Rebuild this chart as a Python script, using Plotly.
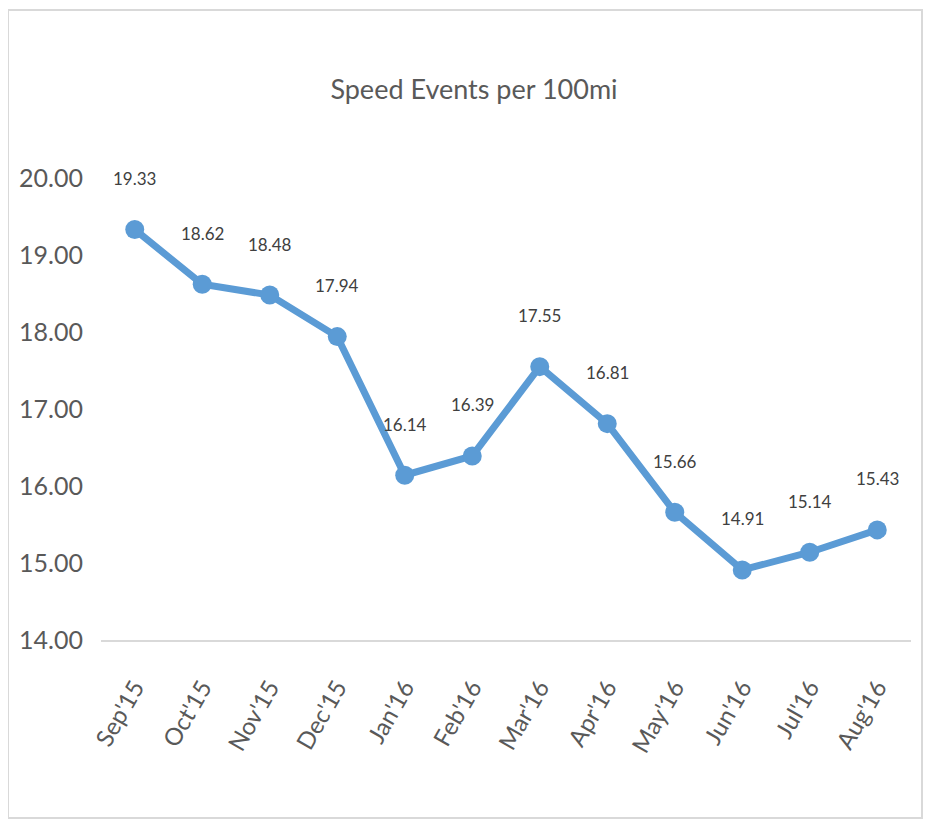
import plotly.graph_objects as go

months = ["Sep'15", "Oct'15", "Nov'15", "Dec'15", "Jan'16", "Feb'16",
          "Mar'16", "Apr'16", "May'16", "Jun'16", "Jul'16", "Aug'16"]
speed_events = [19.33, 18.62, 18.48, 17.94, 16.14, 16.39,
                17.55, 16.81, 15.66, 14.91, 15.14, 15.43]
y_ticks = [14, 15, 16, 17, 18, 19, 20]

W, H = 932, 821
L, R, T, B = 93, 29, 170, 189
pw, ph = W - L - R, H - T - B

fig = go.Figure()
fig.add_trace(go.Scatter(
    x=months, y=speed_events, mode="lines+markers",
    line=dict(color="#5B9BD5", width=7),
    marker=dict(color="#5B9BD5", size=19),
    hoverinfo="x+y", showlegend=False,
))

for m, v in zip(months, speed_events):
    fig.add_annotation(x=m, y=v, text=f"{v:.2f}", showarrow=False,
                       yshift=51, font=dict(size=17, color="#404040"))

def px_x(px):
    return (px - L) / pw

def px_y(py):
    return (H - B - py) / ph

fig.add_shape(type="rect", xref="paper", yref="paper",
              x0=px_x(0), x1=px_x(914), y0=px_y(810), y1=px_y(2),
              line=dict(color="#d9d9d9", width=2), layer="below")

fig.update_layout(
    width=W, height=H,
    margin=dict(l=L, r=R, t=T, b=B),
    paper_bgcolor="white", plot_bgcolor="white",
    font=dict(family="Lato, Open Sans, sans-serif", color="#595959"),
    title=dict(text="Speed Events per 100mi", x=0.5, xref="container",
               xanchor="center", y=1 - 82 / H, yanchor="middle",
               font=dict(size=27, color="#595959")),
    xaxis=dict(showgrid=False, showline=True, linecolor="#d9d9d9", linewidth=2,
               tickangle=-60, tickfont=dict(size=24, color="#595959"),
               ticks="outside", ticklen=22, tickcolor="rgba(0,0,0,0)",
               range=[-0.5, 11.5]),
    yaxis=dict(range=[14, 20], tickvals=y_ticks,
               ticktext=[f"{t:.2f}" for t in y_ticks],
               showgrid=False, zeroline=False, showline=False,
               tickfont=dict(size=25, color="#595959"),
               ticks="outside", ticklen=12, tickcolor="rgba(0,0,0,0)"),
)

fig.write_html("out.html")
